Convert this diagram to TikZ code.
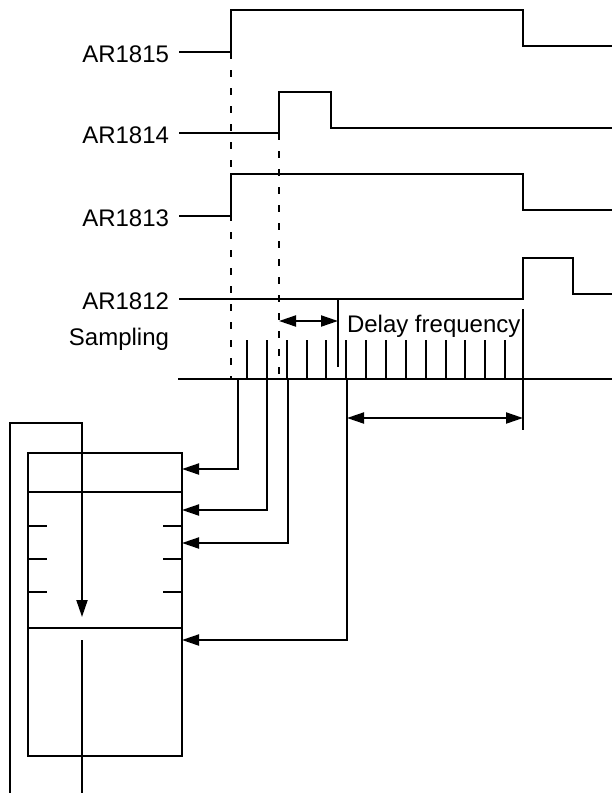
\documentclass[tikz,border=0pt]{standalone}
\usepackage{fontspec}
\setmainfont{Liberation Sans}
\usetikzlibrary{arrows.meta}
\begin{document}
\begin{tikzpicture}[x=1pt,y=-1pt,line width=2pt,line join=miter,
  arr/.style={-{Triangle[length=17pt,width=11pt]}},
  darr/.style={{Triangle[length=17pt,width=11pt]}-{Triangle[length=17pt,width=11pt]}},
  dashline/.style={dash pattern=on 7pt off 11pt},
  lbl/.style={font=\fontsize{24}{28}\selectfont,inner sep=0pt}]
\useasboundingbox (0,0) rectangle (612,793);
% labels
\node[lbl,anchor=base east] (l15) at (170,62) {AR1815};
\node[lbl,anchor=base east] (l14) at (170,143.5) {AR1814};
\node[lbl,anchor=base east] (l13) at (170,226.5) {AR1813};
\node[lbl,anchor=base east] (l12) at (170,309.5) {AR1812};
\node[lbl,anchor=base east] (ls) at (170,345) {Sampling};
\node[lbl,anchor=base west] (ld) at (346,332) {Delay frequency};
% signals
\draw (179,52) -- (231,52) -- (231,10) -- (523,10) -- (523,46) -- (612,46);
\draw (179,133) -- (279,133) -- (279,92) -- (331,92) -- (331,128) -- (612,128);
\draw (179,216) -- (231,216) -- (231,174) -- (523,174) -- (523,210) -- (612,210);
\draw (179,299) -- (523,299) -- (523,258) -- (573,258) -- (573,294) -- (612,294);
% dashed guides
\draw[dashline] (231,52) -- (231,379);
\draw[dashline] (279,133) -- (279,379);
% sampling baseline and ticks
\draw (178,379) -- (612,379);
\foreach \i in {0,...,13} \draw (247+\i*19.85,340) -- (247+\i*19.85,379);
% delay markers
\draw (338,299) -- (338,367);
\draw[darr] (279,321) -- (338,321);
\draw (523,309) -- (523,430);
\draw[darr] (347,418) -- (523,418);
% box
\draw (28,453) rectangle (182,756);
\draw (28,492) -- (182,492);
\draw (28,628) -- (182,628);
\foreach \y in {526,559,592} {
  \draw (28,\y) -- (47,\y);
  \draw (163,\y) -- (182,\y);
}
% feeds into box
\draw[arr] (238,379) -- (238,469) -- (182,469);
\draw[arr] (267,379) -- (267,510) -- (182,510);
\draw[arr] (288,379) -- (288,543) -- (182,543);
\draw[arr] (347,379) -- (347,640) -- (182,640);
% loop
\draw[arr] (10,793) -- (10,423) -- (82,423) -- (82,617);
\draw (82,640) -- (82,793);
\end{tikzpicture}
\end{document}
